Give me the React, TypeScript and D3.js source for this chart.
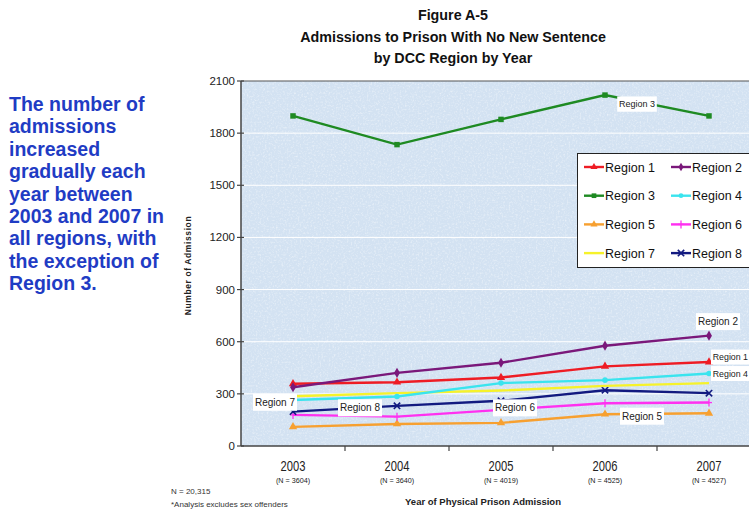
import React from 'react';
import * as d3 from 'd3';

// categories and counts
const years = ['2003', '2004', '2005', '2006', '2007'];
const yearCounts = ['(N = 3604)', '(N = 3640)', '(N = 4019)', '(N = 4525)', '(N = 4527)'];
const yTicks = [0, 300, 600, 900, 1200, 1500, 1800, 2100];

// admissions per region
const region1 = [358, 367, 394, 458, 483];
const region2 = [338, 421, 479, 577, 635];
const region3 = [1899, 1734, 1879, 2019, 1899];
const region4 = [265, 285, 362, 379, 417];
const region5 = [110, 127, 133, 183, 188];
const region6 = [179, 169, 208, 246, 250];
const region7 = [286, 304, 319, 346, 362];
const region8 = [198, 231, 260, 321, 304];

const noteLines = [
  'The number of',
  'admissions',
  'increased',
  'gradually each',
  'year between',
  '2003 and 2007 in',
  'all regions, with',
  'the exception of',
  'Region 3.',
];

interface Series {
  name: string;
  values: number[];
  color: string;
  marker: string;
}

const series: Series[] = [
  { name: 'Region 5', values: region5, color: '#f7a030', marker: 'triangle' },
  { name: 'Region 6', values: region6, color: '#ff30f0', marker: 'plus' },
  { name: 'Region 8', values: region8, color: '#121a80', marker: 'x' },
  { name: 'Region 7', values: region7, color: '#f6f22a', marker: 'none' },
  { name: 'Region 4', values: region4, color: '#3ae4ee', marker: 'circle' },
  { name: 'Region 1', values: region1, color: '#ee1c24', marker: 'triangle' },
  { name: 'Region 2', values: region2, color: '#7a187a', marker: 'diamond' },
  { name: 'Region 3', values: region3, color: '#1e8a22', marker: 'square' },
];

const legendOrder = ['Region 1', 'Region 2', 'Region 3', 'Region 4', 'Region 5', 'Region 6', 'Region 7', 'Region 8'];

// line labels: anchored to a point of the series, with a pixel offset
const labels = [
  { name: 'Region 3', at: 3, dx: 32, dy: 9, size: 9, start: false },
  { name: 'Region 2', at: 4, dx: 9, dy: -14, size: 10, start: false },
  { name: 'Region 1', at: 4, dx: 2, dy: -5, size: 8.8, start: true },
  { name: 'Region 4', at: 4, dx: 2, dy: 0, size: 8.8, start: true },
  { name: 'Region 7', at: 0, dx: -18, dy: 6, size: 10, start: false },
  { name: 'Region 8', at: 1, dx: -37, dy: 2, size: 10, start: false },
  { name: 'Region 6', at: 2, dx: 14, dy: -2, size: 10, start: false },
  { name: 'Region 5', at: 3, dx: 37, dy: 2, size: 10, start: false },
];

const FONT = 'Liberation Sans, Arial, Helvetica, sans-serif';

const W = 749;
const H = 512;
const plot = { left: 241, top: 81, bottom: 446, right: 761 };

const x = d3.scaleBand<string>().domain(years).range([plot.left, plot.right]).paddingInner(0).paddingOuter(0);
const y = d3.scaleLinear().domain([0, 2100]).range([plot.bottom, plot.top]);
const cx = (yr: string) => (x(yr) ?? 0) + x.bandwidth() / 2;

const symbolPath = (marker: string, size: number) => {
  if (marker === 'triangle') return d3.symbol(d3.symbolTriangle, size)()!;
  if (marker === 'diamond') return d3.symbol(d3.symbolDiamond, size)()!;
  if (marker === 'square') return d3.symbol(d3.symbolSquare, size)()!;
  if (marker === 'circle') return d3.symbol(d3.symbolCircle, size * 0.8)()!;
  return '';
};

const Marker: React.FC<{ s: Series; px: number; py: number; size?: number }> = ({ s, px, py, size = 30 }) => {
  if (s.marker === 'none') return null;
  if (s.marker === 'plus') {
    return (
      <g transform={`translate(${px},${py})`} stroke={s.color} strokeWidth={1.3}>
        <line x1={0} x2={0} y1={-4} y2={4} />
        <line x1={-3} x2={3} y1={0} y2={0} />
      </g>
    );
  }
  if (s.marker === 'x') {
    return (
      <g transform={`translate(${px},${py}) rotate(45)`} stroke={s.color} strokeWidth={1.6}>
        <line x1={0} x2={0} y1={-4.5} y2={4.5} />
        <line x1={-4.5} x2={4.5} y1={0} y2={0} />
      </g>
    );
  }
  return <path d={symbolPath(s.marker, size)} transform={`translate(${px},${py})`} fill={s.color} />;
};

const App: React.FC = () => {
  const line = d3
    .line<number>()
    .x((_, i) => cx(years[i]))
    .y((d) => y(d));

  const byName = (n: string) => series.find((s) => s.name === n)!;

  return (
    <svg width={W} height={H} style={{ position: 'absolute', left: 0, top: 0, background: '#fff' }} fontFamily={FONT}>
      <defs>
        <filter id="paper" x="0" y="0" width="100%" height="100%">
          <feTurbulence type="fractalNoise" baseFrequency="0.55" numOctaves={2} seed={4} result="n" />
          <feColorMatrix in="n" type="matrix" values="0 0 0 0 1  0 0 0 0 1  0 0 0 0 1  0 0 0 2.2 -1.05" />
        </filter>
        <clipPath id="plotClip">
          <rect x={plot.left} y={plot.top} width={plot.right - plot.left} height={plot.bottom - plot.top} />
        </clipPath>
      </defs>

      {/* title */}
      <g fontWeight="bold" fontSize={14.3} textAnchor="middle" fill="#111">
        <text x={453} y={20}>Figure A-5</text>
        <text x={453} y={42}>Admissions to Prison With No New Sentence</text>
        <text x={453} y={63}>by DCC Region by Year</text>
      </g>

      {/* side note */}
      <g fontWeight="bold" fontSize={19.5} fill="#1f3cc4">
        {noteLines.map((t, i) => (
          <text key={i} x={9} y={111 + i * 22.4}>
            {t}
          </text>
        ))}
      </g>

      {/* plot background */}
      <rect x={plot.left} y={plot.top} width={plot.right - plot.left} height={plot.bottom - plot.top} fill="#d3e2f2" />
      <rect
        x={plot.left}
        y={plot.top}
        width={plot.right - plot.left}
        height={plot.bottom - plot.top}
        filter="url(#paper)"
        opacity={0.5}
      />

      {/* gridlines */}
      {yTicks.slice(1, -1).map((t) => (
        <line key={t} x1={plot.left} x2={plot.right} y1={y(t)} y2={y(t)} stroke="#ffffff" strokeWidth={1} />
      ))}
      <line x1={plot.left} x2={plot.right} y1={plot.top} y2={plot.top} stroke="#555" strokeWidth={1.2} />

      {/* y axis */}
      <line x1={plot.left} x2={plot.left} y1={plot.top} y2={plot.bottom} stroke="#444" strokeWidth={1.5} />
      {yTicks.map((t) => (
        <g key={t}>
          <line x1={plot.left - 4} x2={plot.left + 3} y1={y(t)} y2={y(t)} stroke="#444" strokeWidth={1.2} />
          <text x={plot.left - 6} y={y(t) + 4} textAnchor="end" fontSize={11.5} fill="#222">
            {t}
          </text>
        </g>
      ))}
      <text
        transform={`translate(191,${(plot.top + plot.bottom) / 2 + 2}) rotate(-90)`}
        textAnchor="middle"
        fontSize={8.5}
        fontWeight="bold"
        letterSpacing={0.6}
        fill="#222"
      >
        Number of Admission
      </text>

      {/* x axis */}
      <line x1={plot.left} x2={plot.right} y1={plot.bottom} y2={plot.bottom} stroke="#444" strokeWidth={1.5} />
      {years.map((yr, i) => (
        <g key={yr}>
          {i > 0 && (
            <line x1={x(yr)!} x2={x(yr)!} y1={plot.bottom} y2={plot.bottom + 5} stroke="#444" strokeWidth={1.2} />
          )}
          <text
            x={cx(yr)}
            y={471.5}
            textAnchor="middle"
            fontSize={14}
            fill="#222"
            transform={`translate(${cx(yr) * 0.2},0) scale(0.8,1)`}
          >
            {yr}
          </text>
          <text x={cx(yr)} y={482.5} textAnchor="middle" fontSize={7.2} fill="#222">
            {yearCounts[i]}
          </text>
        </g>
      ))}
      <text x={483} y={505} textAnchor="middle" fontSize={9.5} fontWeight="bold" fill="#222">
        Year of Physical Prison Admission
      </text>
      <g fontSize={8} fill="#333">
        <text x={171} y={494}>N = 20,315</text>
        <text x={171} y={507}>*Analysis excludes sex offenders</text>
      </g>

      {/* lines */}
      <g clipPath="url(#plotClip)">
        {series.map((s) => (
          <g key={s.name}>
            <path d={line(s.values)!} fill="none" stroke={s.color} strokeWidth={2.4} />
            {s.values.map((v, i) => (
              <Marker key={i} s={s} px={cx(years[i])} py={y(v)} />
            ))}
          </g>
        ))}

        {/* line labels */}
        {labels.map((l) => {
          const s = byName(l.name);
          const w = l.size * 4.4;
          const h = l.size * 1.7;
          const px = cx(years[l.at]) + l.dx + (l.start ? w / 2 : 0);
          const py = y(s.values[l.at]) + l.dy;
          return (
            <g key={l.name}>
              <rect x={px - w / 2} y={py - h / 2} width={w} height={h} fill="#fff" />
              <text x={px} y={py + l.size * 0.36} textAnchor="middle" fontSize={l.size} fill="#222">
                {l.name}
              </text>
            </g>
          );
        })}

        {/* legend */}
        <rect x={577.5} y={153.5} width={200} height={114} fill="#fff" stroke="#222" strokeWidth={1} />
        {legendOrder.map((n, i) => {
          const s = byName(n);
          const col = i % 2;
          const row = Math.floor(i / 2);
          const lx = 584 + col * 87;
          const ly = 167 + row * 28.7;
          return (
            <g key={n}>
              <line x1={lx} x2={lx + 20} y1={ly} y2={ly} stroke={s.color} strokeWidth={2.4} />
              <Marker s={s} px={lx + 10} py={ly} size={22} />
              <text x={lx + 21} y={ly + 4.5} fontSize={12.5} fill="#111">
                {n}
              </text>
            </g>
          );
        })}
      </g>
    </svg>
  );
};

export default App;
